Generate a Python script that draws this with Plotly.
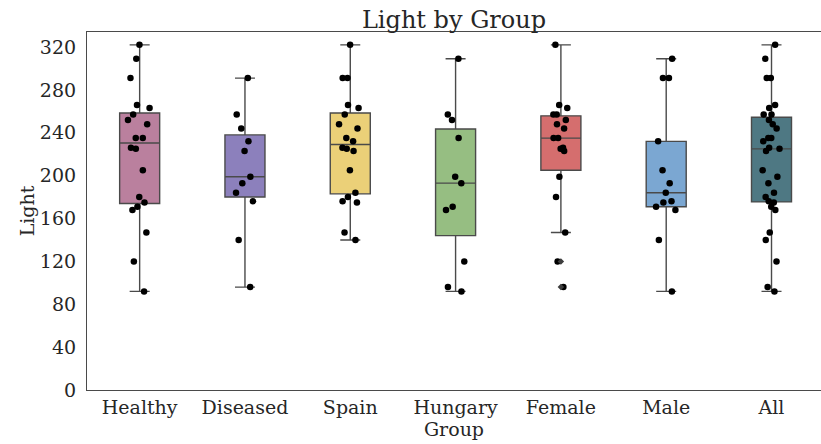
import numpy as np
import plotly.graph_objects as go

groups = ["Healthy", "Diseased", "Spain", "Hungary", "Female", "Male", "All"]

light_healthy = [92, 120, 147, 168, 171, 175, 180, 205, 225, 226, 235, 235,
                 248, 252, 257, 263, 266, 291, 309, 322]
light_diseased = [96, 140, 176, 184, 193, 199, 223, 232, 244, 257, 291]
light_spain = [140, 147, 175, 176, 180, 184, 205, 223, 225, 226, 232, 235,
               244, 248, 257, 263, 266, 291, 291, 322]
light_hungary = [92, 96, 120, 168, 171, 193, 199, 235, 252, 257, 309]
light_female = [96, 120, 147, 180, 199, 223, 225, 226, 235, 235, 244, 248,
                252, 257, 257, 263, 266, 322]
light_male = [92, 140, 168, 171, 175, 176, 184, 193, 205, 232, 291, 291, 309]
light_all = [92, 96, 120, 140, 147, 168, 171, 175, 176, 180, 184, 193, 199,
             205, 223, 225, 226, 232, 235, 235, 244, 248, 252, 257, 257, 263,
             266, 291, 291, 309, 322]

y_ticks = [0, 40, 80, 120, 160, 200, 240, 280, 320]

series = [light_healthy, light_diseased, light_spain, light_hungary,
          light_female, light_male, light_all]
colors = ["#ba809e", "#8c80bc", "#ebd078", "#96be82", "#d56e6e", "#7ba7d2", "#4e7883"]

FONT = "DejaVu Serif"
TXT = "#262626"
EDGE = "#4a4a4a"
BOXW = 0.38

fig = go.Figure()

# Boxes with seaborn-style (numpy linear) quartiles and 1.5*IQR whiskers
fliers_x, fliers_y = [], []
for g, vals, c in zip(groups, series, colors):
    a = np.array(vals, dtype=float)
    q1, med, q3 = np.percentile(a, [25, 50, 75])
    iqr = q3 - q1
    lo = a[a >= q1 - 1.5 * iqr].min()
    hi = a[a <= q3 + 1.5 * iqr].max()
    out = a[(a < lo) | (a > hi)]
    fliers_x += [g] * len(out)
    fliers_y += list(out)
    fig.add_trace(go.Box(
        x=[g], q1=[q1], median=[med], q3=[q3], lowerfence=[lo], upperfence=[hi],
        fillcolor=c, line=dict(color=EDGE, width=1.4), width=BOXW,
        whiskerwidth=0.5, boxpoints=False, showlegend=False, name=g,
    ))

# Flier markers
fig.add_trace(go.Scatter(
    x=fliers_x, y=fliers_y, mode="markers",
    marker=dict(symbol="diamond", size=5, color="#3d3d3d"),
    showlegend=False, hoverinfo="skip",
))

# Jittered strip points (library jitter), invisible box
for g, vals in zip(groups, series):
    fig.add_trace(go.Box(
        x=[g] * len(vals), y=vals, boxpoints="all", jitter=0.6, pointpos=0,
        width=BOXW, fillcolor="rgba(0,0,0,0)", line=dict(width=0, color="rgba(0,0,0,0)"),
        marker=dict(color="black", size=6.5, line=dict(width=0)),
        whiskerwidth=0, showlegend=False, name=g,
    ))

fig.update_layout(
    width=821, height=444,
    margin=dict(l=87, r=0, t=32, b=54),
    paper_bgcolor="white", plot_bgcolor="white",
    font=dict(family=FONT, color=TXT, size=19),
    boxmode="overlay",
    title=dict(text="Light by Group", x=0.5, xref="paper", xanchor="center",
               y=1 - 20 / 444, yref="container", yanchor="middle",
               font=dict(family=FONT, size=24, color=TXT)),
    showlegend=False,
)
fig.update_xaxes(
    type="category", categoryorder="array", categoryarray=groups,
    range=[-0.5, 6.47], showgrid=False, zeroline=False,
    showline=True, linecolor=EDGE, linewidth=1.2, mirror=True,
    ticks="", ticklabelstandoff=0,
    tickfont=dict(family=FONT, size=19, color=TXT),
    title=dict(text="Group", standoff=0, font=dict(family=FONT, size=19, color=TXT)),
)
fig.update_yaxes(
    range=[0, 334], tickvals=y_ticks, showgrid=False, zeroline=False,
    showline=True, linecolor=EDGE, linewidth=1.2, mirror=False,
    ticks="", ticklabelstandoff=6,
    tickfont=dict(family=FONT, size=19, color=TXT),
    title=dict(text="Light", standoff=0, font=dict(family=FONT, size=19, color=TXT)),
)

fig.write_html(
    "out.html",
    config={"displayModeBar": False},
    post_script="document.body.style.margin='0px';document.body.style.overflow='hidden';",
)
